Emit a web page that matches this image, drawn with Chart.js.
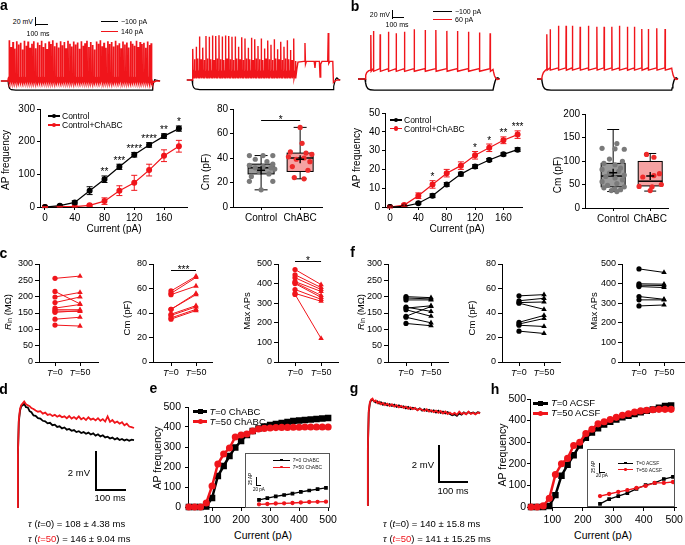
<!DOCTYPE html>
<html>
<head>
<meta charset="utf-8">
<title>Firing and capacitance figure</title>
<script src="https://cdn.jsdelivr.net/npm/chart.js@4.4.1/dist/chart.umd.min.js"></script>
<style>
  html, body { margin: 0; padding: 0; background: #fff; }
  #fig { position: relative; width: 685px; height: 545px; overflow: hidden; font-family: 'Liberation Sans', Arial, sans-serif; }
  #fig canvas { position: absolute; }
  .t { position: absolute; white-space: nowrap; line-height: 1; color: #000; }
  .k { position: absolute; }
</style>
</head>
<body>
<div id="fig"></div>
<script>
// ---------- data ----------

// a / b : AP frequency vs current
const currentAB = [0, 20, 40, 60, 80, 100, 120, 140, 160, 180];
const xTicksAB = [0, 40, 80, 120, 160];
const apCtrlA = [0, 4, 14, 50, 85, 123, 160, 190, 217, 240];
const apCtrlAErr = [2, 3, 5, 12, 10, 8, 7, 7, 7, 8];
const apChA = [0, 1, 1, 5, 18, 50, 74, 113, 157, 186];
const apChAErr = [1, 1, 1, 3, 10, 15, 23, 18, 18, 18];
const starsA = ['', '', '', '', '**', '***', '****', '****', '**', '*'];
const yTicksA = [0, 100, 200, 300];

const apCtrlB = [0, 0.3, 2, 6, 12, 17.5, 21.5, 25, 28, 30.5];
const apCtrlBErr = [0.3, 0.3, 0.5, 1, 1, 1, 1, 0.8, 0.8, 1];
const apChB = [0, 1, 6, 12, 18, 22, 27.5, 31.5, 35.5, 38.5];
const apChBErr = [0.5, 0.6, 1.5, 2, 2, 2, 2, 2, 1.8, 2];
const starsB = ['', '', '', '*', '', '', '*', '*', '**', '***'];
const yTicksB = [0, 10, 20, 30, 40, 50];

// a / b : capacitance box plots  [min, q1, median, q3, max], mean
const boxCats = ['Control', 'ChABC'];
const boxStatsA = [[14, 27, 32, 35, 42], [23, 29, 40, 44, 65]];
const boxMeanA = [30, 39];
const cmCtrlA = [42, 42, 42, 39, 37, 35, 34, 33, 32, 32, 31, 29, 27, 25, 21, 21, 14];
const cmCtrlAJit = [-0.3, 0.05, 0.3, -0.15, 0.15, 0.3, -0.3, 0.05, -0.15, 0.25, 0.35, -0.05, 0.2, -0.25, -0.3, 0.3, 0];
const cmChA = [65, 52, 45, 44, 43, 41, 40, 39, 37, 33, 30, 24, 23];
const cmChAJit = [0, 0.05, -0.25, 0.15, 0.3, -0.3, 0.1, -0.1, 0.25, -0.2, 0.2, -0.15, 0.1];
const yTicksCmA = [0, 20, 40, 60, 80];

const boxStatsB = [[35, 45, 68, 95, 167], [36, 47, 57, 99, 116]];
const boxMeanB = [75, 68];
const cmCtrlB = [137, 127, 126, 125, 104, 99, 95, 92, 85, 82, 78, 74, 70, 67, 64, 60, 56, 52, 48, 45, 43, 41, 39, 37, 35];
const cmCtrlBJit = [0.1, -0.3, 0.05, 0.3, -0.1, 0.25, -0.25, 0.05, 0.2, -0.3, 0.15, -0.1, 0.3, -0.2, 0.05, 0.25, -0.3, 0.1, -0.15, 0.3, -0.25, 0.05, 0.2, -0.05, 0.1];
const cmChB = [114, 108, 73, 69, 66, 50, 46, 45, 37];
const cmChBJit = [-0.1, 0.1, 0.25, 0.1, -0.2, 0.3, -0.3, 0.05, 0];
const yTicksCmB = [0, 50, 100, 150, 200];

// c / f : paired cells, T=0 and T=50
const tickLabelsT = [['T', '=0'], ['T', '=50']];
const rinC0 = [256, 216, 199, 182, 165, 160, 156, 152, 131, 113];
const rinC50 = [263, 178, 213, 199, 176, 160, 155, 157, 137, 110];
const cmC0 = [58, 56, 55, 43, 43, 39, 38, 36, 35];
const cmC50 = [70, 69, 62, 56, 55, 46, 45, 43, 42];
const maxC0 = [472, 445, 430, 410, 405, 400, 370, 350, 345];
const maxC50 = [395, 380, 370, 360, 340, 330, 320, 310, 120];
const rinF0 = [200, 196, 190, 168, 165, 160, 140, 137, 118];
const rinF50 = [197, 193, 190, 155, 172, 140, 170, 120, 111];
const cmF0 = [54, 50, 48.5, 48, 32.4, 31, 30, 25.2];
const cmF50 = [55, 52, 49, 43, 38, 35.5, 29, 23.3];
const maxF0 = [475, 399, 392, 385, 334, 317, 286];
const maxF50 = [457, 397, 390, 380, 320, 317, 291];
const yTicksRin = [0, 50, 100, 150, 200, 250, 300];
const yTicksCm = [0, 20, 40, 60, 80];
const yTicksMax = [0, 100, 200, 300, 400, 500];

// e / h : AP frequency vs current, T=0 and T=50
const curE = [20, 40, 60, 80, 100, 120, 140, 160, 180, 200, 220, 240, 260, 280, 300, 320, 340, 360, 380, 400, 420, 440, 460, 480, 500];
const apT0E = [0, 0, 0, 3, 45, 155, 205, 255, 298, 330, 360, 380, 393, 402, 410, 415, 420, 425, 430, 432, 435, 438, 440, 443, 445];
const apT50E = [0, 0, 0, 20, 105, 215, 265, 295, 350, 360, 365, 380, 390, 393, 395, 397, 398, 398, 399, 399, 400, 400, 400, 400, 400];
const curH = [30, 50, 70, 90, 110, 130, 150, 170, 190, 210, 230, 250, 270, 290, 310, 330, 350, 370, 390, 410, 430, 450, 470, 490];
const apT0H = [0, 0, 0, 5, 55, 145, 195, 240, 285, 320, 345, 365, 382, 395, 405, 415, 422, 430, 438, 445, 452, 460, 468, 470];
const apT50H = [0, 0, 5, 40, 150, 200, 225, 285, 300, 340, 360, 385, 395, 405, 415, 425, 432, 440, 445, 448, 450, 452, 452, 452];
const xTicksEH = [100, 200, 300, 400, 500];
const yTicksEH = [0, 100, 200, 300, 400, 500];
const insetCur = [250, 280, 310, 340, 370, 400, 430, 460, 490];
const insetT0E = [22, 28, 33, 37.5, 42, 47, 51.6, 56, 60];
const insetT50E = [8.4, 9.4, 10.9, 11.6, 12.5, 14, 15.6, 16.3, 16.6];
const insetT0H = [7, 23, 33, 43, 57, 70, 77, 90, 97];
const insetT50H = [33, 40, 47, 53, 60, 67, 77, 77, 80];

// d / g : EPSP decay traces (ms, mV)
const decayT = [0, 3, 6, 10, 14, 19, 24, 30, 36, 42, 48, 55, 62, 70, 78, 86, 94, 102, 110, 118, 126, 134, 142, 150, 158, 166, 174, 182, 190, 198, 206, 214, 222, 230, 238, 246, 254, 262, 270, 278, 286, 294, 302, 310, 318, 326, 334, 342, 350, 358, 366, 374, 382, 390];
const dBlack = [0, 2.8, 4.6, 5.2, 5.45, 5.5, 5.58, 5.4, 5.38, 5.18, 5.12, 4.95, 4.93, 4.8, 4.78, 4.66, 4.63, 4.52, 4.55, 4.42, 4.45, 4.33, 4.36, 4.25, 4.3, 4.18, 4.22, 4.12, 4.16, 4.05, 4.1, 4.0, 4.05, 3.96, 4.02, 3.92, 3.98, 3.86, 3.93, 3.82, 3.88, 3.76, 3.8, 3.7, 3.75, 3.65, 3.72, 3.62, 3.68, 3.6, 3.65, 3.58, 3.64, 3.62];
const dRed = [0, 2.8, 4.7, 5.3, 5.5, 5.6, 5.7, 5.55, 5.5, 5.45, 5.35, 5.3, 5.22, 5.15, 5.18, 5.05, 5.1, 4.98, 5.02, 4.92, 4.98, 4.88, 4.95, 4.85, 4.9, 4.8, 4.92, 4.78, 4.86, 4.76, 4.9, 4.74, 4.82, 4.7, 4.85, 4.72, 4.78, 4.68, 4.8, 4.66, 4.75, 4.62, 4.9, 4.6, 4.7, 4.55, 4.62, 4.5, 4.58, 4.42, 4.5, 4.35, 4.32, 4.27];
const gBlack = [0, 3.0, 5.0, 5.5, 5.65, 5.7, 5.62, 5.55, 5.6, 5.48, 5.55, 5.42, 5.5, 5.38, 5.45, 5.35, 5.42, 5.3, 5.38, 5.28, 5.33, 5.22, 5.3, 5.18, 5.26, 5.2, 5.15, 5.22, 5.1, 5.18, 5.08, 5.15, 5.05, 5.12, 5.0, 5.1, 4.98, 5.05, 4.95, 5.02, 4.92, 4.85, 4.9, 4.82, 4.95, 4.88, 5.0, 4.92, 5.02, 4.95, 5.0, 4.93, 5.02, 4.98];
const gRed = [0, 3.1, 5.1, 5.55, 5.7, 5.75, 5.6, 5.65, 5.5, 5.58, 5.45, 5.52, 5.4, 5.48, 5.35, 5.45, 5.32, 5.4, 5.28, 5.36, 5.25, 5.32, 5.2, 5.28, 5.18, 5.25, 5.12, 5.2, 5.15, 5.08, 5.18, 5.05, 5.12, 5.02, 5.1, 4.98, 5.08, 4.95, 5.05, 4.92, 5.0, 4.9, 4.98, 4.88, 5.05, 4.92, 4.98, 4.9, 5.05, 4.92, 4.98, 4.9, 5.0, 4.95];

// a / b : voltage traces (ms, mV)
const aLeftSpikeT = [8, 22, 37, 51, 66, 80, 95, 110, 124, 139, 153, 168, 183, 197, 212, 226, 241, 256, 270, 285,
  299, 314, 329, 343, 358, 372, 387, 402, 416, 431, 445, 460, 475, 489, 504, 518, 533, 548, 562, 577,
  591, 606, 621, 635, 650, 664, 679, 694, 708, 723, 737, 752, 767, 781, 796, 810, 825, 840, 854, 869,
  883, 898, 913, 927, 942, 956, 971, 986, 1000, 1015, 1029, 1044, 1059, 1073, 1088, 1100];
const aLeftSpikePk = [28, 12, 24, 8, 26, 18, 22, 6, 27, 15, 25, 10, 20, 26, 9, 23, 17, 27, 12, 21,
  7, 25, 19, 28, 14, 22, 11, 26, 16, 24, 9, 27, 20, 13, 25, 18, 23, 8, 26, 15,
  21, 27, 12, 24, 17, 6, 25, 20, 28, 14, 22, 10, 26, 19, 24, 13, 27, 16, 21, 9,
  25, 18, 23, 11, 26, 20, 15, 27, 12, 24, 19, 22, 10, 25, 17, 21];
const aLeftPre = [[-55, -70], [0, -70], [3, -64], [6, -62]];
const aLeftPost = [[1104, -74], [1108, -70], [1112, -75], [1122, -72], [1140, -70], [1170, -70]];
const aLeftHyper = [[-55, -70], [0, -70], [5, -82], [12, -88], [25, -91], [60, -92], [1108, -92], [1113, -84], [1120, -74], [1128, -67], [1140, -68], [1170, -70]];

const aRightSpikeT = [6, 18, 31, 43, 56, 68, 81, 93, 106, 118, 131, 143, 156, 168, 181, 193, 206, 218, 231, 243,
  256, 268, 281, 293, 306, 318, 331, 343, 356, 368, 381, 393, 406, 418, 431, 443, 456, 468, 481, 493,
  506, 518, 531, 543, 556, 568, 581, 593, 606, 618, 631, 643, 656, 668, 681, 693, 706, 718, 731, 743,
  756, 768, 781, 795];
const aRightSpikePk = [5, -20, 10, -18, 35, -20, 8, -22, 36, -18, 34, -20, 37, -22, 36, -18, 38, -20, 35, -22,
  37, -18, 36, -20, 34, -22, 35, -18, 10, -20, 33, -22, 30, -18, 8, -20, 32, -22, 28, -18,
  12, -20, 30, -22, 6, -18, 25, -20, 15, -22, 28, -18, 4, -20, 22, -22, 10, -18, 26, -20,
  2, -22, 30, -24];
const aRightPre = [[-40, -70], [0, -70], [3, -58]];
const aRightPost = [[806, -45], [815, -27], [860, -25], [866, -25], [869, 19], [873, -32], [880, -25], [940, -25], [946, -41], [951, -25],
  [980, -25], [985, -63], [990, -32], [1000, -25], [1044, -25], [1048, 43], [1052, -30], [1060, -25], [1083, -25], [1088, -76],
  [1098, -73], [1115, -70], [1140, -70]];
const aRightHyper = [[-40, -70], [0, -70], [5, -82], [12, -88], [25, -91.5], [60, -93], [1085, -93], [1090, -85], [1097, -76], [1105, -68], [1115, -65], [1130, -69], [1140, -70]];

const bLeftSpikeT = [49, 71, 128, 199, 265, 336, 419, 513, 604, 698, 789, 883, 977, 1068];
const bLeftSpikePk = [49, 60, 51, 58, 54, 58, 64, 62, 62, 60, 60, 58, 56, 54];
const bLeftPre = [[-60, -65], [0, -65], [6, -55], [15, -48], [30, -44], [45, -42]];
const bLeftPost = [[1094, -40], [1098, -46], [1106, -56], [1118, -63], [1130, -66], [1150, -65]];
const bLeftHyper = [[-60, -65], [0, -65], [5, -75], [12, -84], [25, -90], [45, -93], [80, -94], [1094, -94], [1098, -88], [1104, -80], [1112, -71], [1122, -63], [1135, -62], [1150, -65]];

const bRightSpikeT = [43, 71, 142, 207, 261, 327, 398, 470, 532, 598, 663, 731, 791, 854, 910, 982, 1053];
const bRightSpikePk = [51, 64, 73, 73, 73, 71, 73, 71, 71, 71, 73, 71, 71, 65, 65, 67, 65];
const bRightPre = [[-40, -65], [0, -65], [6, -55], [15, -48], [30, -43], [40, -40]];
const bRightPost = [[1111, -37], [1115, -44], [1123, -55], [1135, -63], [1148, -66], [1165, -65]];
const bRightHyper = [[-40, -65], [0, -65], [5, -75], [12, -84], [25, -90], [45, -93], [80, -94], [1111, -94], [1115, -88], [1121, -80], [1129, -71], [1138, -63], [1150, -62], [1165, -65]];

// ---------- helpers ----------

const FONT = "'Liberation Sans', Arial, sans-serif";
const RED = '#f0151b';
const fig = document.getElementById('fig');
Chart.defaults.font.family = FONT;
Chart.defaults.color = '#000';

function canvasAt(l, t, w, h) {
  const c = document.createElement('canvas');
  c.width = w; c.height = h;
  c.style.left = l + 'px'; c.style.top = t + 'px';
  c.style.width = w + 'px'; c.style.height = h + 'px';
  fig.appendChild(c);
  return c;
}

// text: x/y is the anchor, align left|center|right, vertically centred
function text(x, y, html, size, o = {}) {
  const s = document.createElement('span');
  s.className = 't';
  s.innerHTML = html;
  s.style.fontSize = size + 'px';
  s.style.left = x + 'px';
  s.style.top = y + 'px';
  const ax = o.align === 'left' ? '0' : o.align === 'right' ? '-100%' : '-50%';
  s.style.transform = o.rot ? 'translate(-50%,-50%) rotate(-90deg)' : `translate(${ax},-50%)`;
  if (o.bold) s.style.fontWeight = 'bold';
  if (o.color) s.style.color = o.color;
  fig.appendChild(s);
}

function rule(l, t, w, h, color = '#000', extra = '') {
  const d = document.createElement('div');
  d.className = 'k';
  d.style.cssText += `left:${l}px;top:${t}px;width:${w}px;height:${h}px;background:${color};${extra}`;
  fig.appendChild(d);
  return d;
}

function swatch(x0, x1, y, color, thick, marker, ms) {
  rule(x0, y - thick / 2, x1 - x0, thick, color);
  const m = rule((x0 + x1) / 2 - ms / 2, y - ms / 2, ms, ms, color);
  if (marker === 'circle') m.style.borderRadius = '50%';
}

const pts = (xs, ys) => xs.map((x, i) => ({ x, y: ys[i] }));
const xy = pairs => pairs.map(([x, y]) => ({ x, y }));

function spikeTrain(pre, times, peaks, thr, ahp, post) {
  const out = xy(pre);
  times.forEach((t, i) => {
    out.push({ x: t, y: thr }, { x: t + 1.5, y: peaks[i] }, { x: t + 4, y: ahp });
  });
  return out.concat(xy(post));
}

// trace panel without axes; xm/ym anchor one page pixel to one data value
function traceChart(box, xm, ym, datasets) {
  const c = canvasAt(box.l, box.t, box.w, box.h);
  const xmin = xm.v - (xm.px - box.l) / xm.k;
  const ymax = ym.v + (ym.px - box.t) / ym.k;
  return new Chart(c, {
    type: 'line',
    data: { datasets: datasets.map(d => Object.assign({ pointRadius: 0, fill: false, tension: 0 }, d)) },
    options: {
      responsive: false, animation: false, events: [],
      layout: { padding: 0, autoPadding: false },
      plugins: { legend: { display: false }, tooltip: { enabled: false } },
      scales: {
        x: { type: 'linear', display: false, min: xmin, max: xmin + box.w / xm.k },
        y: { type: 'linear', display: false, min: ymax - box.h / ym.k, max: ymax }
      }
    }
  });
}

const YW = 34, XH = 18, PT = 12, PR = 12;

function baseAxis(a) {
  return {
    type: 'linear', bounds: 'data', min: a.min, max: a.max,
    afterBuildTicks: s => { s.ticks = a.ticks.map(v => ({ value: v })); },
    grid: { display: true, drawOnChartArea: false, drawTicks: true, tickLength: a.tl || 4, color: '#000', lineWidth: 1 },
    border: { display: true, color: '#000', width: 1 },
    ticks: {
      display: a.show !== false, color: '#000', font: { family: FONT, size: a.fs },
      padding: a.pad == null ? 2 : a.pad, autoSkip: false, maxRotation: 0, minRotation: 0,
      callback: a.labels ? (v, i) => a.labels[i] : v => v
    }
  };
}

function axisChart(plot, type, datasets, xa, ya, plugins) {
  const c = canvasAt(plot.l - YW, plot.t - PT, plot.r - plot.l + YW + PR, plot.b - plot.t + PT + XH);
  const xs = baseAxis(xa), ys = baseAxis(ya);
  xs.afterFit = s => { s.height = XH; s.paddingLeft = 0; s.paddingRight = 0; };
  ys.afterFit = s => { s.width = YW; s.paddingTop = 0; s.paddingBottom = 0; };
  return new Chart(c, {
    type,
    data: { datasets },
    options: {
      responsive: false, animation: false, events: [],
      layout: { padding: { top: PT, right: PR, left: 0, bottom: 0 }, autoPadding: false },
      plugins: { legend: { display: false }, tooltip: { enabled: false } },
      scales: { x: xs, y: ys }
    },
    plugins: plugins || []
  });
}

// error bars from dataset.errors
const errorBars = {
  id: 'errorBars',
  afterDatasetsDraw(chart) {
    const { ctx, scales: { y } } = chart;
    chart.data.datasets.forEach((ds, di) => {
      if (!ds.errors) return;
      ctx.save();
      ctx.strokeStyle = ds.borderColor;
      ctx.lineWidth = 1;
      chart.getDatasetMeta(di).data.forEach((p, i) => {
        const v = ds.data[i].y, e = ds.errors[i];
        const yt = y.getPixelForValue(v + e), yb = y.getPixelForValue(v - e);
        ctx.beginPath();
        ctx.moveTo(p.x, yt); ctx.lineTo(p.x, yb);
        ctx.moveTo(p.x - 3, yt); ctx.lineTo(p.x + 3, yt);
        ctx.moveTo(p.x - 3, yb); ctx.lineTo(p.x + 3, yb);
        ctx.stroke();
      });
      ctx.restore();
    });
  }
};

function starsPlugin(labels, size) {
  return {
    id: 'stars',
    afterDatasetsDraw(chart) {
      const { ctx, scales: { y } } = chart;
      const dss = chart.data.datasets;
      ctx.save();
      ctx.fillStyle = '#000';
      ctx.font = `${size}px ${FONT}`;
      ctx.textAlign = 'center';
      ctx.textBaseline = 'alphabetic';
      labels.forEach((lab, i) => {
        if (!lab) return;
        const top = Math.max(...dss.map(ds => ds.data[i].y + ds.errors[i]));
        const px = chart.getDatasetMeta(0).data[i].x;
        ctx.fillText(lab, px, y.getPixelForValue(top) - 0.5);
      });
      ctx.restore();
    }
  };
}

function sigBar(x0, x1, val, label, size) {
  return {
    id: 'sig',
    afterDraw(chart) {
      const { ctx, scales: { x, y } } = chart;
      const a = x.getPixelForValue(x0), b = x.getPixelForValue(x1), py = Math.round(y.getPixelForValue(val)) + 0.5;
      ctx.save();
      ctx.strokeStyle = '#000'; ctx.lineWidth = 1;
      ctx.beginPath(); ctx.moveTo(a, py); ctx.lineTo(b, py); ctx.stroke();
      ctx.fillStyle = '#000';
      ctx.font = `${size}px ${FONT}`;
      ctx.textAlign = 'center';
      ctx.fillText(label, (a + b) / 2, py + 0.43 * size - 1.5);
      ctx.restore();
    }
  };
}

function boxPlugin(stats, fills, hw) {
  return {
    id: 'box',
    beforeDatasetsDraw(chart) {
      const { ctx, scales: { x, y } } = chart;
      ctx.save();
      ctx.strokeStyle = '#000';
      stats.forEach((s, i) => {
        const cx = x.getPixelForValue(i);
        const [mn, q1, md, q3, mx] = s.map(v => y.getPixelForValue(v));
        ctx.lineWidth = 1;
        ctx.fillStyle = fills[i];
        ctx.fillRect(cx - hw, q3, 2 * hw, q1 - q3);
        ctx.strokeRect(cx - hw, q3, 2 * hw, q1 - q3);
        ctx.beginPath();
        ctx.moveTo(cx, q3); ctx.lineTo(cx, mx);
        ctx.moveTo(cx, q1); ctx.lineTo(cx, mn);
        ctx.moveTo(cx - hw / 2, mx); ctx.lineTo(cx + hw / 2, mx);
        ctx.moveTo(cx - hw / 2, mn); ctx.lineTo(cx + hw / 2, mn);
        ctx.stroke();
        ctx.lineWidth = 1.5;
        ctx.beginPath(); ctx.moveTo(cx - hw, md); ctx.lineTo(cx + hw, md); ctx.stroke();
      });
      ctx.restore();
    }
  };
}

// x tick labels with italic T
function tLabels(size) {
  return {
    id: 'tLabels',
    afterDraw(chart) {
      const { ctx, scales: { x }, chartArea } = chart;
      ctx.save();
      ctx.fillStyle = '#000';
      ctx.textBaseline = 'middle';
      ctx.textAlign = 'left';
      const yy = chartArea.bottom + 11;
      x.ticks.forEach((tk, i) => {
        const [a, b] = tickLabelsT[i];
        const px = x.getPixelForValue(tk.value);
        ctx.font = `italic ${size}px ${FONT}`;
        const wa = ctx.measureText(a).width;
        ctx.font = `${size}px ${FONT}`;
        const wb = ctx.measureText(b).width;
        const x0 = px - (wa + wb) / 2;
        ctx.font = `italic ${size}px ${FONT}`;
        ctx.fillText(a, x0, yy);
        ctx.font = `${size}px ${FONT}`;
        ctx.fillText(b, x0 + wa, yy);
      });
      ctx.restore();
    }
  };
}

// ---------- a / b traces ----------

traceChart({ l: 0, t: 28, w: 172, h: 67 }, { px: 8, v: 0, k: 0.13 }, { px: 81, v: -70, k: 0.415 }, [
  { data: spikeTrain(aLeftPre, aLeftSpikeT, aLeftSpikePk, -62, -74, aLeftPost), borderColor: RED, borderWidth: 1.7 },
  { data: xy(aLeftHyper), borderColor: '#000', borderWidth: 1.2 }
]);
traceChart({ l: 176, t: 28, w: 169, h: 67 }, { px: 192, v: 0, k: 0.13 }, { px: 80, v: -70, k: 0.415 }, [
  { data: spikeTrain(aRightPre, aRightSpikeT, aRightSpikePk, -50, -66, aRightPost), borderColor: RED, borderWidth: 1.4 },
  { data: xy(aRightHyper), borderColor: '#000', borderWidth: 1.2 }
]);
traceChart({ l: 345, t: 22, w: 165, h: 73 }, { px: 365, v: 0, k: 0.117 }, { px: 79, v: -65, k: 0.385 }, [
  { data: spikeTrain(bLeftPre, bLeftSpikeT, bLeftSpikePk, -38, -45, bLeftPost), borderColor: RED, borderWidth: 1.4 },
  { data: xy(bLeftHyper), borderColor: '#000', borderWidth: 1.4 }
]);
traceChart({ l: 522, t: 18, w: 163, h: 77 }, { px: 541.7, v: 0, k: 0.117 }, { px: 79, v: -65, k: 0.385 }, [
  { data: spikeTrain(bRightPre, bRightSpikeT, bRightSpikePk, -36, -42, bRightPost), borderColor: RED, borderWidth: 1.4 },
  { data: xy(bRightHyper), borderColor: '#000', borderWidth: 1.4 }
]);

// scale bars and legends of the traces
rule(35, 17, 1.3, 8.5); rule(35, 24.2, 13, 1.3);
text(33, 21, '20 mV', 7, { align: 'right' });
text(38, 33, '100 ms', 7);
rule(101, 20.5, 17, 1.2); rule(101, 30.5, 17, 1.2, RED);
text(121, 21, '\u2212100 pA', 7, { align: 'left' });
text(121, 31, '140 pA', 7, { align: 'left' });

rule(392, 10, 1.3, 8.5); rule(392, 17.2, 11.5, 1.3);
text(390, 14, '20 mV', 7, { align: 'right' });
text(397, 24, '100 ms', 7);
rule(433, 10.5, 19, 1.2); rule(433, 18.5, 19, 1.2, RED);
text(455, 11, '\u2212100 pA', 7, { align: 'left' });
text(455, 19, '60 pA', 7, { align: 'left' });

// ---------- a / b firing curves ----------

axisChart({ l: 40, t: 109, r: 187, b: 207 }, 'line', [
  { data: pts(currentAB, apCtrlA), errors: apCtrlAErr, borderColor: '#000', backgroundColor: '#000', borderWidth: 1.2, pointRadius: 2.4, tension: 0 },
  { data: pts(currentAB, apChA), errors: apChAErr, borderColor: RED, backgroundColor: RED, borderWidth: 1.2, pointRadius: 2.4, tension: 0 }
], { min: -6.7, max: 190.9, ticks: xTicksAB, fs: 10, tl: 3 }, { min: 0, max: 300, ticks: yTicksA, fs: 10, tl: 3 },
[errorBars, starsPlugin(starsA, 10)]);

axisChart({ l: 385, t: 113, r: 522, b: 207 }, 'line', [
  { data: pts(currentAB, apCtrlB), errors: apCtrlBErr, borderColor: '#000', backgroundColor: '#000', borderWidth: 1.2, pointRadius: 2.4, tension: 0 },
  { data: pts(currentAB, apChB), errors: apChBErr, borderColor: RED, backgroundColor: RED, borderWidth: 1.2, pointRadius: 2.4, tension: 0 }
], { min: -7.05, max: 186.2, ticks: xTicksAB, fs: 10, tl: 3 }, { min: 0, max: 50, ticks: yTicksB, fs: 10, tl: 3 },
[errorBars, starsPlugin(starsB, 10)]);

swatch(48, 60, 116, '#000', 1.2, 'circle', 4.5);
swatch(48, 60, 125, RED, 1.2, 'circle', 4.5);
text(62, 116, 'Control', 8.5, { align: 'left' });
text(62, 125, 'Control+ChABC', 8.5, { align: 'left' });
swatch(390, 402, 120, '#000', 1.2, 'circle', 4.5);
swatch(390, 402, 128.5, RED, 1.2, 'circle', 4.5);
text(404, 120, 'Control', 8.5, { align: 'left' });
text(404, 128.5, 'Control+ChABC', 8.5, { align: 'left' });

text(6, 160, 'AP frequency', 10, { rot: true });
text(114, 229, 'Current (pA)', 10);
text(357, 158, 'AP frequency', 10, { rot: true });
text(457, 229, 'Current (pA)', 10);

// ---------- a / b box plots ----------

function boxChart(plot, xmin, xmax, ymax, yTicks, stats, means, ctrl, ctrlJit, ch, chJit, hw, extra) {
  return axisChart(plot, 'scatter', [
    { data: means.map((m, i) => ({ x: i, y: m })), pointStyle: 'cross', pointRadius: 4, borderColor: '#000', borderWidth: 1.4 },
    { data: ctrl.map((v, i) => ({ x: ctrlJit[i], y: v })), backgroundColor: '#7a7a7a', borderWidth: 0, pointRadius: 2.6 },
    { data: ch.map((v, i) => ({ x: 1 + chJit[i], y: v })), backgroundColor: '#ee2a2a', borderWidth: 0, pointRadius: 2.6 }
  ], { min: xmin, max: xmax, ticks: [0, 1], labels: boxCats, fs: 10, tl: 3 }, { min: 0, max: ymax, ticks: yTicks, fs: 10, tl: 3 },
  [boxPlugin(stats, ['#9a9a9a', '#f6a2a2'], hw)].concat(extra || []));
}

boxChart({ l: 233, t: 109, r: 322, b: 207 }, -0.72, 1.56, 80, yTicksCmA, boxStatsA, boxMeanA, cmCtrlA, cmCtrlAJit, cmChA, cmChAJit, 13,
  [sigBar(0, 1, 71, '*', 10)]);
boxChart({ l: 585, t: 114, r: 668, b: 208 }, -0.76, 1.48, 200, yTicksCmB, boxStatsB, boxMeanB, cmCtrlB, cmCtrlBJit, cmChB, cmChBJit, 12);
text(206, 172, 'Cm (pF)', 10, { rot: true });
text(558, 175, 'Cm (pF)', 10, { rot: true });

// ---------- c / f paired plots ----------

function pairChart(plot, xmin, xmax, ymax, yTicks, t0, t50, color, extra) {
  const ds = t0.map((v, i) => ({
    data: [{ x: 0, y: v }, { x: 1, y: t50[i] }], borderColor: color, backgroundColor: color, borderWidth: 1,
    pointStyle: ['circle', 'triangle'], pointRadius: [2.6, 3.2], pointBorderWidth: 0, tension: 0
  }));
  return axisChart(plot, 'line', ds, { min: xmin, max: xmax, ticks: [0, 1], fs: 9, show: false },
    { min: 0, max: ymax, ticks: yTicks, fs: 9 }, [tLabels(9)].concat(extra || []));
}

pairChart({ l: 39, t: 264, r: 98, b: 362 }, -0.64, 1.72, 300, yTicksRin, rinC0, rinC50, RED);
pairChart({ l: 153, t: 264, r: 212, b: 362 }, -0.72, 1.64, 80, yTicksCm, cmC0, cmC50, RED, [sigBar(0, 1, 75.3, '***', 10)]);
pairChart({ l: 278, t: 264, r: 338, b: 362 }, -0.654, 1.65, 500, yTicksMax, maxC0, maxC50, RED, [sigBar(0, 1, 513, '*', 10)]);
pairChart({ l: 388, t: 264, r: 448, b: 362 }, -0.72, 1.68, 300, yTicksRin, rinF0, rinF50, '#000');
pairChart({ l: 502, t: 264, r: 560, b: 362 }, -0.68, 1.64, 80, yTicksCm, cmF0, cmF50, '#000');
pairChart({ l: 622, t: 264, r: 684, b: 362 }, -0.68, 1.8, 500, yTicksMax, maxF0, maxF50, '#000');

const rinTitle = '<i>R</i><sub style="font-size:70%;vertical-align:-1px">in</sub> (M\u03a9)';
text(8, 312, rinTitle, 9.5, { rot: true });
text(127, 318, 'Cm (pF)', 9.5, { rot: true });
text(247, 311, 'Max APs', 9.5, { rot: true });
text(361, 312, rinTitle, 9.5, { rot: true });
text(472, 318, 'Cm (pF)', 9.5, { rot: true });
text(594, 311, 'Max APs', 9.5, { rot: true });

// ---------- d / g decay traces ----------

traceChart({ l: 10, t: 392, w: 130, h: 120 }, { px: 17, v: 0, k: 0.3 }, { px: 507, v: 0, k: 18.5 }, [
  { data: pts(decayT, dRed), borderColor: RED, borderWidth: 1.8 },
  { data: pts(decayT, dBlack), borderColor: '#000', borderWidth: 1.8 }
]);
traceChart({ l: 360, t: 390, w: 125, h: 120 }, { px: 367, v: 0, k: 0.29 }, { px: 505, v: 0, k: 18.5 }, [
  { data: pts(decayT, gRed), borderColor: RED, borderWidth: 1.8 },
  { data: pts(decayT, gBlack), borderColor: '#000', borderWidth: 1.8 }
]);
rule(94.5, 451, 2, 40); rule(94.5, 489, 31, 2);
text(90, 473, '2 mV', 9.5, { align: 'right' });
text(110, 498, '100 ms', 9.5);
rule(438, 445, 2, 38); rule(438, 481, 30, 2);
text(434, 465, '2 mV', 9.5, { align: 'right' });
text(453, 491, '100 ms', 9.5);

const tau = '<span style="font-family:\'Liberation Serif\',serif;font-style:italic;font-size:110%">\u03c4</span>';
text(28, 524, `${tau} (<i>t</i>=0) = 108 \u00b1 4.38 ms`, 9.5, { align: 'left' });
text(28, 539, `${tau} (<span style="color:${RED}"><i>t</i>=50</span>) = 146 \u00b1 9.04 ms`, 9.5, { align: 'left' });
text(383, 524, `${tau} (<i>t</i>=0) = 140 \u00b1 15.8 ms`, 9.5, { align: 'left' });
text(383, 539, `${tau} (<span style="color:${RED}"><i>t</i>=50</span>) = 141 \u00b1 15.25 ms`, 9.5, { align: 'left' });

// ---------- e / h firing curves ----------

function curveChart(plot, xmin, xmax, cur, t0, t50, yPad) {
  return axisChart(plot, 'line', [
    { data: pts(cur, t50), borderColor: RED, backgroundColor: RED, borderWidth: 2.5, pointRadius: 2.3, pointStyle: 'circle', tension: 0, clip: false },
    { data: pts(cur, t0), borderColor: '#000', backgroundColor: '#000', borderWidth: 2.5, pointRadius: 2.8, pointStyle: 'rect', tension: 0, clip: false }
  ], { min: xmin, max: xmax, ticks: xTicksEH, fs: 10.5, pad: 3 }, { min: 0, max: 500, ticks: yTicksEH, fs: 10.5, pad: yPad, tl: 3 });
}
curveChart({ l: 188, t: 407, r: 329, b: 507 }, 17, 503, curE, apT0E, apT50E, 4);
curveChart({ l: 530, t: 399, r: 676, b: 507 }, 26.6, 506, curH, apT0H, apT50H, 1);

text(157, 458, 'AP frequency', 10.5, { rot: true });
text(263, 535, 'Current (pA)', 10.5);
text(502, 455, 'AP frequency', 10.5, { rot: true });
text(603, 535, 'Current (pA)', 10.5);

swatch(193, 207, 411.7, '#000', 2.5, 'rect', 5);
swatch(193, 207, 421.7, RED, 2.5, 'circle', 5);
text(209.5, 411.7, '<i>T</i>=0 ChABC', 9.5, { align: 'left' });
text(209.5, 421.7, '<i>T</i>=50 ChABC', 9.5, { align: 'left' });
swatch(533, 548, 403.3, '#000', 2.5, 'rect', 5);
swatch(533, 548, 413.3, RED, 2.5, 'circle', 5);
text(551, 403.3, '<i>T</i>=0 ACSF', 9.5, { align: 'left' });
text(551, 413.3, '<i>T</i>=50 ACSF', 9.5, { align: 'left' });

// insets
rule(245, 453, 85, 55, '#fff', 'box-sizing:border-box;border:1px solid #555;');
rule(587, 449, 88, 58, '#fff', 'box-sizing:border-box;border:1px solid #555;');

function insetChart(box, xm, ym, t0, t50) {
  return traceChart(box, xm, ym, [
    { data: pts(insetCur, t50), borderColor: RED, backgroundColor: RED, borderWidth: 1.3, pointRadius: 1.5, pointStyle: 'circle' },
    { data: pts(insetCur, t0), borderColor: '#000', backgroundColor: '#000', borderWidth: 1.3, pointRadius: 1.7, pointStyle: 'rect' }
  ]);
}
insetChart({ l: 246, t: 454, w: 83, h: 53 }, { px: 259, v: 250, k: 0.279 }, { px: 507, v: 0, k: 0.32 }, insetT0E, insetT50E);
insetChart({ l: 588, t: 450, w: 86, h: 56 }, { px: 600, v: 250, k: 0.304 }, { px: 506, v: 0, k: 0.3 }, insetT0H, insetT50H);

swatch(273, 290, 460, '#000', 1, 'rect', 2.5);
swatch(273, 290, 467, RED, 1, 'circle', 2.5);
text(292.5, 460, '<i>T</i>=0 ChABC', 5, { align: 'left', color: '#222' });
text(292.5, 467, '<i>T</i>=50 ChABC', 5, { align: 'left', color: '#222' });
rule(255.5, 477, 1, 8); rule(255.5, 484.5, 5.5, 1);
text(250.5, 479, '25 AP', 4.5, { rot: true });
text(253, 490, '20 pA', 4.5, { align: 'left' });

swatch(618, 633, 463, '#000', 1, 'rect', 2.5);
swatch(618, 633, 469.5, RED, 1, 'circle', 2.5);
text(636, 463, '<i>T</i>=0 ACSF', 5, { align: 'left', color: '#222' });
text(636, 469.5, '<i>T</i>=50 ACSF', 5, { align: 'left', color: '#222' });
rule(599, 463, 1, 9); rule(599, 471.5, 6, 1);
text(593.5, 467, '25 AP', 4.5, { rot: true });
text(596, 476, '20 pA', 4.5, { align: 'left' });

// ---------- panel letters ----------
text(4, 4.5, 'a', 14, { bold: true });
text(355, 6, 'b', 14, { bold: true });
text(3.5, 253, 'c', 14, { bold: true });
text(352.5, 252, 'f', 14, { bold: true });
text(3.5, 389, 'd', 14, { bold: true });
text(153.5, 388, 'e', 14, { bold: true });
text(354, 388, 'g', 14, { bold: true });
text(495, 389, 'h', 14, { bold: true });
</script>
</body>
</html>
